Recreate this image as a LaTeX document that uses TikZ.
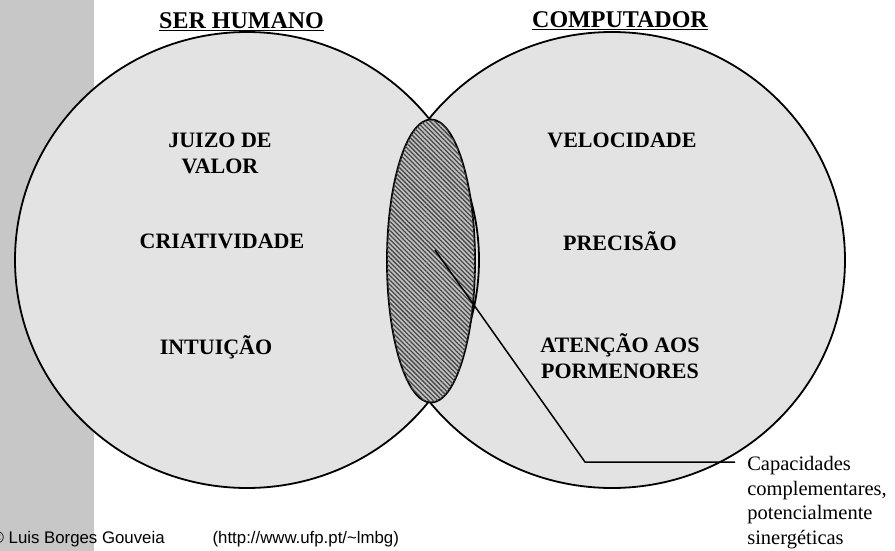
\documentclass[tikz,border=0pt]{standalone}
\usepackage{fontspec}
\setmainfont{Liberation Serif}
\newfontfamily\arialfont{Liberation Sans}
\usetikzlibrary{shapes.geometric,patterns.meta}

\begin{document}
\begin{tikzpicture}[x=1pt,y=-1pt,semithick,
    circ/.style={ellipse,draw,line width=1.8pt,fill=black!11,inner sep=0pt},
    lens/.style={ellipse,draw,line width=1.8pt,fill=black!24,inner sep=0pt,
      postaction={pattern={Lines[angle=-45,distance=3.2pt,line width=1.3pt]},
        pattern color=black!72}},
    heading/.style={font=\fontsize{24}{28}\selectfont\bfseries,anchor=base},
    trait/.style={font=\fontsize{22}{25.5}\selectfont\bfseries,align=center,anchor=base},
    credit/.style={font=\arialfont\fontsize{16.8}{20}\selectfont,anchor=base west}]
  \useasboundingbox (0,0) rectangle (895,551);
  \fill[black!22] (0,0) rectangle (94,551);
  \node[circ, minimum width=466pt, minimum height=456pt] (comp) at (612,260) {};
  \node[circ, minimum width=464pt, minimum height=456pt] (human) at (247,260) {};
  \node[lens, minimum width=88pt, minimum height=283pt] (overlap) at (431,261) {};
  \node[heading] (th) at (241.5,28.5) {\underline{SER HUMANO}};
  \node[heading] (tc) at (620,27.5) {\underline{COMPUTADOR}};
  \node[trait] (juizo) at (220,173) {JUIZO DE\\VALOR};
  \node[trait] (criat) at (222,248) {CRIATIVIDADE};
  \node[trait] (intui) at (216,354) {INTUIÇÃO};
  \node[trait] (veloc) at (622,147) {VELOCIDADE};
  \node[trait] (prec) at (620,250) {PRECISÃO};
  \node[trait] (atenc) at (620,378) {ATENÇÃO AOS\\PORMENORES};
  \node[anchor=north west, inner xsep=12pt, inner ysep=0pt, align=left,
    font=\fontsize{20.5}{24.5}\selectfont] (note) at (735,456)
    {Capacidades\\complementares,\\potencialmente\\sinergéticas};
  \coordinate (tip) at (435,250);
  \coordinate (knee) at (585,462);
  \draw[line width=1.5pt] (tip) -- (knee) -- (knee -| note.west);
  \node[credit] (author) at (-12,543) {© Luis Borges Gouveia};
  \node[credit] (url) at (209,543) {(http://www.ufp.pt/\textasciitilde lmbg)};
\end{tikzpicture}
\end{document}
